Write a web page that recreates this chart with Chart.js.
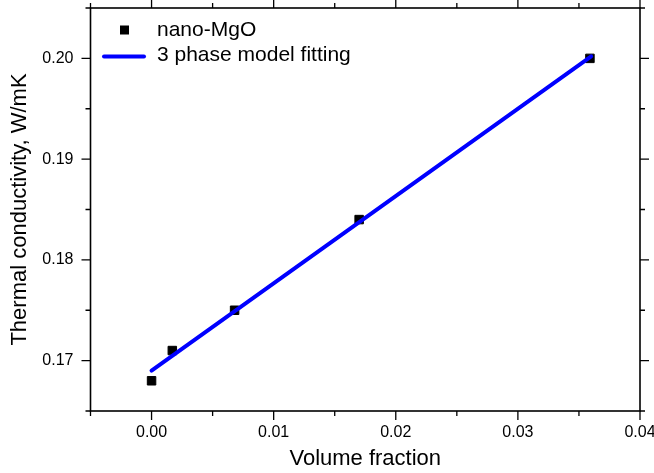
<!DOCTYPE html>
<html>
<head>
<meta charset="utf-8">
<script src="https://cdn.jsdelivr.net/npm/chart.js@4"></script>
<style>
  html, body { margin: 0; padding: 0; background: #fff; }
  #wrap { width: 654px; height: 473px; }
</style>
</head>
<body>
<div id="wrap"><canvas id="c" width="654" height="473"></canvas></div>
<script>
// datos
const volFraction = [0.0, 0.0017, 0.0068, 0.017, 0.0359];
const conductivity = [0.168, 0.171, 0.175, 0.184, 0.2];
const fitX = [0.0, 0.036];
const fitY = [0.169, 0.2002];

const xRange = [-0.005, 0.04];
const yRange = [0.165, 0.205];
const xMajor = [0.00, 0.01, 0.02, 0.03, 0.04];
const yMajor = [0.17, 0.18, 0.19, 0.20];

const FONT = '"Liberation Sans", Arial, sans-serif';

const isMajor = (v, list) => list.some(m => Math.abs(m - v) < 1e-6);

// quitar el relleno automatico de las etiquetas para fijar el area del grafico
const noPad = s => {
  s.paddingTop = 0; s.paddingBottom = 0; s.paddingLeft = 0; s.paddingRight = 0;
};

// marco con ticks en los cuatro lados + leyenda
const framePlugin = {
  id: 'frame',
  afterDatasetsDraw(chart) {
    const { ctx, chartArea: a, scales: { x, y } } = chart;
    ctx.save();
    ctx.strokeStyle = '#000';
    ctx.lineWidth = 1.6;
    ctx.strokeRect(a.left, a.top, a.right - a.left, a.bottom - a.top);

    ctx.lineWidth = 1.3;
    ctx.beginPath();
    x.ticks.forEach(t => {
      const px = x.getPixelForValue(t.value);
      const len = isMajor(t.value, xMajor) ? 9 : 5;
      ctx.moveTo(px, a.bottom); ctx.lineTo(px, a.bottom + len);
      ctx.moveTo(px, a.top); ctx.lineTo(px, a.top - len);
    });
    y.ticks.forEach(t => {
      const py = y.getPixelForValue(t.value);
      const len = isMajor(t.value, yMajor) ? 9 : 5;
      ctx.moveTo(a.left, py); ctx.lineTo(a.left - len, py);
      ctx.moveTo(a.right, py); ctx.lineTo(a.right + len, py);
    });
    ctx.stroke();

    // leyenda
    const pts = chart.data.datasets[1];
    const fit = chart.data.datasets[0];
    ctx.fillStyle = '#000';
    ctx.fillRect(120, 25.5, 9, 9);
    ctx.strokeStyle = fit.borderColor;
    ctx.lineWidth = 4;
    ctx.lineCap = 'round';
    ctx.beginPath();
    ctx.moveTo(104, 56.5); ctx.lineTo(144, 56.5);
    ctx.stroke();
    ctx.font = '21px ' + FONT;
    ctx.textBaseline = 'middle';
    ctx.fillStyle = '#000';
    ctx.fillText(pts.label, 157, 30);
    ctx.fillText(fit.label, 157, 55);
    ctx.restore();
  }
};

new Chart(document.getElementById('c'), {
  type: 'scatter',
  data: {
    datasets: [
      {
        label: '3 phase model fitting',
        data: fitX.map((v, i) => ({ x: v, y: fitY[i] })),
        showLine: true,
        borderColor: '#0000ff',
        borderWidth: 4,
        borderCapStyle: 'round',
        pointRadius: 0,
        order: 0
      },
      {
        label: 'nano-MgO',
        data: volFraction.map((v, i) => ({ x: v, y: conductivity[i] })),
        pointStyle: 'rect',
        pointRadius: 6,
        pointBackgroundColor: '#000',
        pointBorderColor: '#000',
        pointBorderWidth: 1,
        order: 1
      }
    ]
  },
  options: {
    responsive: false,
    animation: false,
    layout: { padding: { top: 8, right: 14, left: 0, bottom: 0 } },
    plugins: { legend: { display: false }, tooltip: { enabled: false } },
    scales: {
      x: {
        type: 'linear',
        min: xRange[0],
        max: xRange[1],
        grid: { display: false, drawTicks: false },
        border: { display: false },
        afterFit: s => { s.height = 62; noPad(s); },
        ticks: {
          stepSize: 0.005,
          padding: 12,
          color: '#000',
          font: { family: FONT, size: 16 },
          maxRotation: 0,
          autoSkip: false,
          callback: v => isMajor(v, xMajor) ? v.toFixed(2) : ''
        },
        title: {
          display: true,
          text: 'Volume fraction',
          color: '#000',
          font: { family: FONT, size: 22 },
          padding: { top: 0, bottom: 1 }
        }
      },
      y: {
        type: 'linear',
        min: yRange[0],
        max: yRange[1],
        grid: { display: false, drawTicks: false },
        border: { display: false },
        afterFit: s => { s.width = 90.5; noPad(s); },
        ticks: {
          stepSize: 0.005,
          padding: 17,
          color: '#000',
          font: { family: FONT, size: 16 },
          autoSkip: false,
          callback: v => isMajor(v, yMajor) ? v.toFixed(2) : ''
        },
        title: {
          display: true,
          text: 'Thermal conductivity, W/mK',
          color: '#000',
          font: { family: FONT, size: 22 },
          padding: { top: 7, bottom: 0 }
        }
      }
    }
  },
  plugins: [framePlugin]
});
</script>
</body>
</html>
